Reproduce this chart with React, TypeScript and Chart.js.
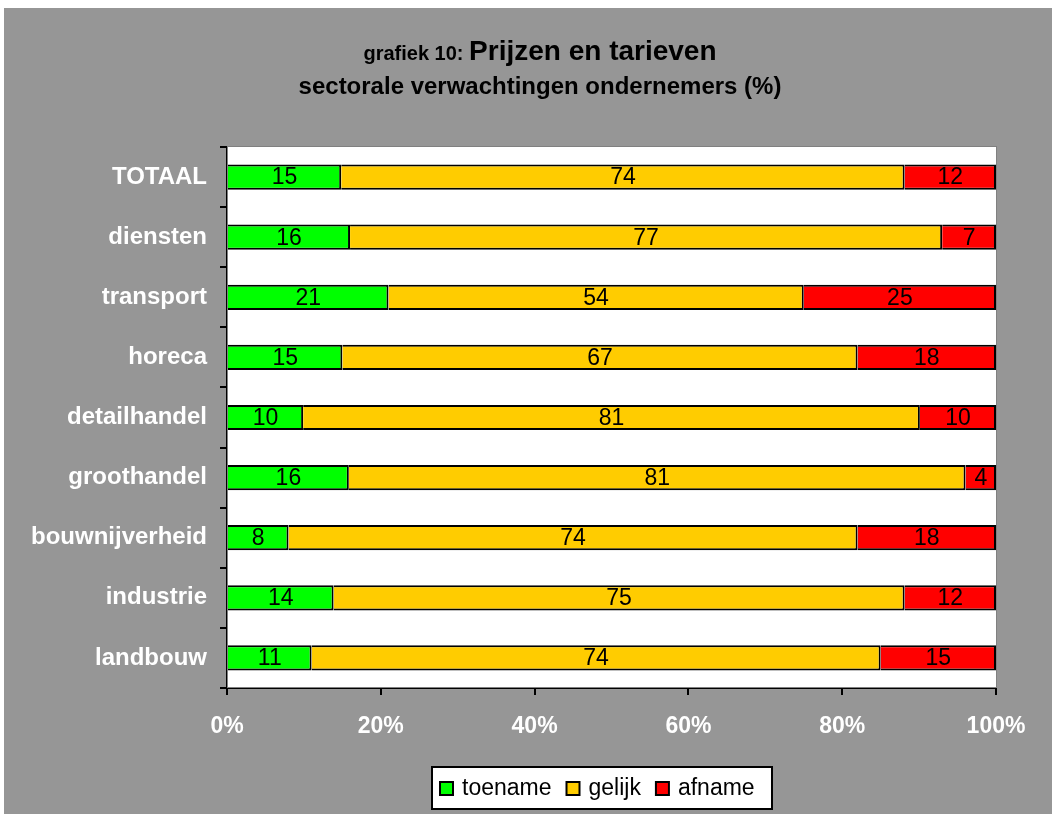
import React, { useEffect, useRef } from 'react';
import { Chart, registerables } from 'chart.js';

Chart.register(...registerables);

const categories = ['TOTAAL', 'diensten', 'transport', 'horeca', 'detailhandel', 'groothandel', 'bouwnijverheid', 'industrie', 'landbouw'];
const toename = [15, 16, 21, 15, 10, 16, 8, 14, 11];
const gelijk = [74, 77, 54, 67, 81, 81, 74, 75, 74];
const afname = [12, 7, 25, 18, 10, 4, 18, 12, 15];
const seriesNames = ['toename', 'gelijk', 'afname'];
const seriesColors = ['#00FF00', '#FFCC00', '#FF0000'];
const xTickValues = [0, 20, 40, 60, 80, 100];
const titleSmall = 'grafiek 10: ';
const titleBig = 'Prijzen en tarieven';
const subtitle = 'sectorale verwachtingen ondernemers (%)';

const FONT = "'Liberation Sans', Arial, sans-serif";

const totals = categories.map((_, i) => toename[i] + gelijk[i] + afname[i]);
const series = [toename, gelijk, afname];

const pluginDecor = {
  id: 'decor',
  beforeDatasetsDraw(chart: any) {
    const { ctx, chartArea: a } = chart;
    ctx.save();
    ctx.fillStyle = '#FFFFFF';
    ctx.fillRect(a.left, a.top, a.right - a.left, a.bottom - a.top);
    ctx.strokeStyle = '#808080';
    ctx.lineWidth = 1;
    ctx.strokeRect(a.left + 0.5, a.top - 0.5, a.right - a.left, a.bottom - a.top);
    ctx.restore();
  },
  afterDatasetsDraw(chart: any) {
    const { ctx } = chart;
    ctx.save();
    ctx.font = `23px ${FONT}`;
    ctx.fillStyle = '#000000';
    ctx.textAlign = 'center';
    ctx.textBaseline = 'middle';
    chart.data.datasets.forEach((ds: any, di: number) => {
      const meta = chart.getDatasetMeta(di);
      meta.data.forEach((el: any, i: number) => {
        const cx = (el.x + el.base) / 2;
        ctx.fillText(String(ds.rawValues[i]), cx, el.y + 1);
      });
    });
    ctx.restore();
  },
  afterDraw(chart: any) {
    const { ctx } = chart;
    ctx.save();
    // title
    ctx.fillStyle = '#000000';
    ctx.textBaseline = 'alphabetic';
    ctx.font = `bold 20px ${FONT}`;
    const w1 = ctx.measureText(titleSmall).width;
    ctx.font = `bold 28px ${FONT}`;
    const w2 = ctx.measureText(titleBig).width;
    const cx = 536;
    let x = cx - (w1 + w2) / 2;
    ctx.textAlign = 'left';
    ctx.font = `bold 20px ${FONT}`;
    ctx.fillText(titleSmall, x, 52);
    ctx.font = `bold 28px ${FONT}`;
    ctx.fillText(titleBig, x + w1, 52);
    ctx.font = `bold 24px ${FONT}`;
    ctx.textAlign = 'center';
    ctx.fillText(subtitle, cx, 86);

    // legend
    const bx = 428, by = 759, bw = 340, bh = 42;
    ctx.fillStyle = '#FFFFFF';
    ctx.fillRect(bx, by, bw, bh);
    ctx.strokeStyle = '#000000';
    ctx.lineWidth = 2;
    ctx.strokeRect(bx, by, bw, bh);
    ctx.font = `23px ${FONT}`;
    ctx.textAlign = 'left';
    ctx.textBaseline = 'middle';
    let lx = bx + 8;
    const ly = by + bh / 2;
    chart.data.datasets.forEach((ds: any) => {
      ctx.fillStyle = ds.backgroundColor;
      ctx.fillRect(lx, ly - 6, 13, 13);
      ctx.lineWidth = 2;
      ctx.strokeStyle = '#000000';
      ctx.strokeRect(lx, ly - 6, 13, 13);
      ctx.fillStyle = '#000000';
      ctx.fillText(ds.label, lx + 22, ly + 1);
      lx += 22 + ctx.measureText(ds.label).width + 15;
    });
    ctx.restore();
  },
};

export default function App() {
  const ref = useRef<HTMLCanvasElement>(null);
  useEffect(() => {
    if (!ref.current) return;
    const chart = new Chart(ref.current, {
      type: 'bar',
      data: {
        labels: categories,
        datasets: series.map((vals, si) => ({
          label: seriesNames[si],
          data: vals.map((v, i) => (v / totals[i]) * 100),
          rawValues: vals,
          backgroundColor: seriesColors[si],
          borderColor: '#000000',
          borderWidth: 2,
          borderSkipped: 'start',
          barPercentage: 0.42,
          categoryPercentage: 1,
        })) as any,
      },
      options: {
        indexAxis: 'y',
        responsive: false,
        animation: false,
        maintainAspectRatio: false,
        layout: { padding: { top: 139, right: 56, left: 0, bottom: 0 } },
        plugins: {
          legend: { display: false },
          title: { display: false },
          tooltip: { enabled: false },
        },
        scales: {
          x: {
            stacked: true,
            min: 0,
            max: 100,
            afterBuildTicks: (scale: any) => {
              scale.ticks = xTickValues.map((v) => ({ value: v }));
            },
            afterFit: (scale: any) => {
              scale.height = 126;
            },
            ticks: {
              color: '#FFFFFF',
              font: { family: FONT, size: 23, weight: 'bold' },
              padding: 18,
              maxRotation: 0,
              callback: (v: any) => `${v}%`,
            },
            grid: {
              drawOnChartArea: false,
              drawTicks: true,
              tickLength: 7,
              color: '#000000',
              lineWidth: 2,
            },
            border: { display: true, color: '#000000', width: 2 },
          },
          y: {
            stacked: true,
            afterFit: (scale: any) => {
              scale.width = 223;
            },
            ticks: {
              color: '#FFFFFF',
              font: { family: FONT, size: 24, weight: 'bold' },
              padding: 13,
            },
            grid: {
              offset: true,
              drawOnChartArea: false,
              drawTicks: true,
              tickLength: 7,
              color: '#000000',
              lineWidth: 2,
            },
            border: { display: true, color: '#000000', width: 2 },
          },
        },
      } as any,
      plugins: [pluginDecor],
    });
    return () => chart.destroy();
  }, []);

  return (
    <div
      style={{
        position: 'fixed',
        left: 4,
        top: 8,
        width: 1048,
        height: 806,
        background: '#969696',
      }}
    >
      <canvas ref={ref} width={1048} height={806} style={{ display: 'block' }} />
    </div>
  );
}
